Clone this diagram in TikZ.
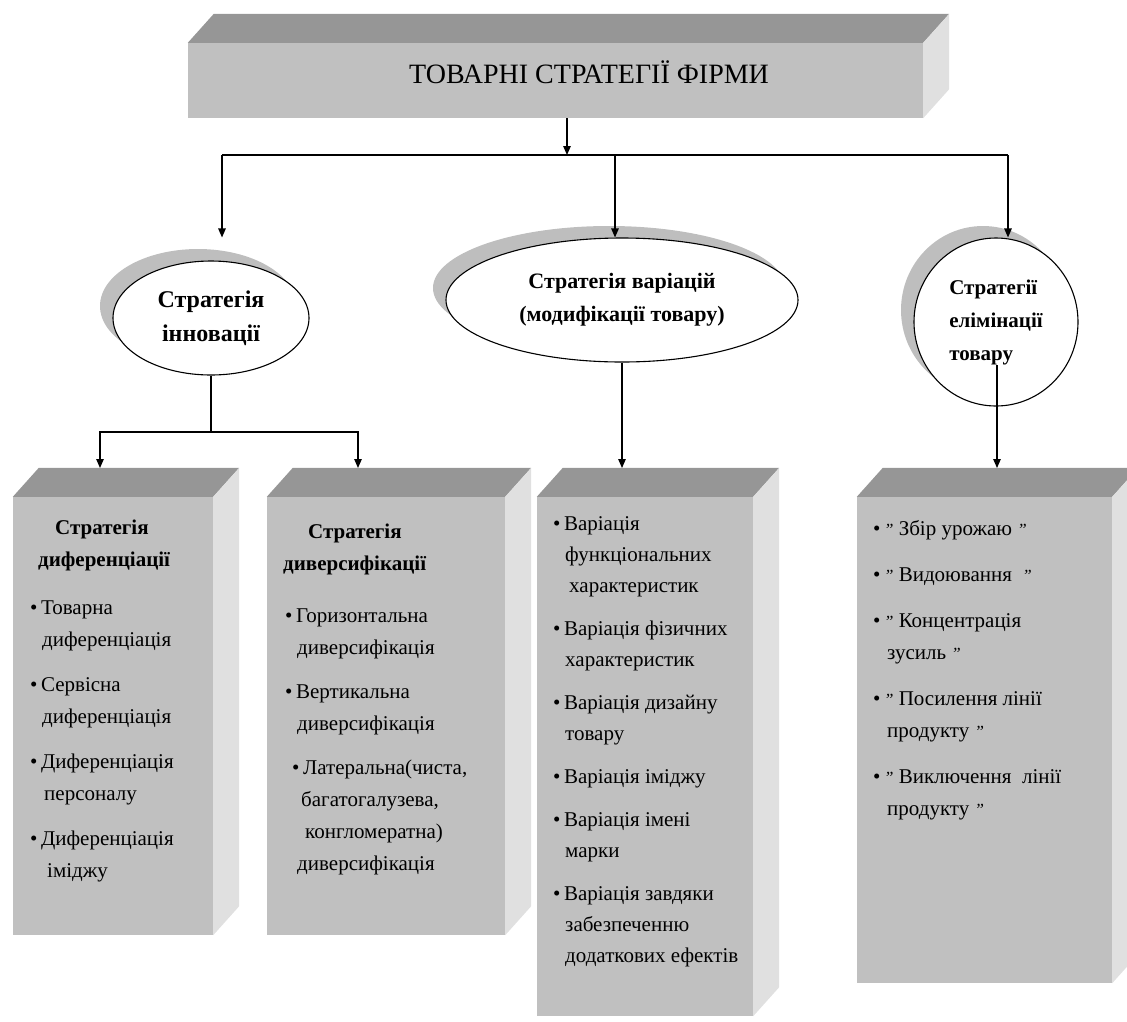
\documentclass[tikz,border=0pt]{standalone}
\usepackage{fontspec}
\setmainfont{Liberation Serif}
\usetikzlibrary{shapes.geometric,shadows,arrows.meta}

\definecolor{boxfront}{HTML}{C0C0C0}
\definecolor{boxtop}{HTML}{969696}
\definecolor{boxside}{HTML}{E0E0E0}
\definecolor{shadowgray}{HTML}{BEBEBE}

\newcommand{\qmark}{{\fontsize{17}{17}\selectfont\itshape"}}

\tikzset{
    >={Triangle[length=9pt,width=7.5pt]},
    front/.style={fill=boxfront,draw=none,inner sep=0pt},
    topface/.style={fill=boxtop},
    sideface/.style={fill=boxside},
    strat/.style={ellipse,draw,line width=1.1pt,fill=white,inner sep=0pt,
        font=\fontsize{22}{33}\selectfont\bfseries,
        drop shadow={shadow xshift=-13pt,shadow yshift=12pt,fill=shadowgray,opacity=1}},
    items/.style={anchor=base west,align=left,inner sep=0pt,font=\fontsize{21}{32}\selectfont},
    conn/.style={line width=1.2pt},
}

\begin{document}
\begin{tikzpicture}[x=1pt,y=-1pt]
    \useasboundingbox (0,0) rectangle (1127,1021);

    % front faces
    \node[front,minimum width=735pt,minimum height=75pt] (titlebox) at (555.5,80.5) {};
    \node[front,minimum width=200pt,minimum height=438pt] (box1) at (113,716) {};
    \node[front,minimum width=238pt,minimum height=438pt] (box2) at (386,716) {};
    \node[front,minimum width=216pt,minimum height=519pt] (box3) at (645,756.5) {};
    \node[front,minimum width=255pt,minimum height=486pt] (box4) at (984.5,740) {};
    % top and side faces
    \foreach \b in {titlebox,box1,box2,box3,box4}{
        \fill[topface](\b.north west)--++(26,-29)--([shift={(26,-29)}]\b.north east)--(\b.north east)--cycle;
        \fill[sideface](\b.north east)--++(26,-29)--([shift={(26,-29)}]\b.south east)--(\b.south east)--cycle;
    }
    \node[font=\fontsize{28}{28}\selectfont] (titletxt) at (589,72) {ТОВАРНІ СТРАТЕГІЇ ФІРМИ};

    % strategies
    \node[strat,align=center,minimum width=196pt,minimum height=114pt,font=\fontsize{24}{34}\selectfont\bfseries] (inn) at (211,318) {Стратегія\\інновації};
    \node[strat,align=center,minimum width=352pt,minimum height=124pt] (var) at (622,300) {Стратегія варіацій\\(модифікації товару)};
    \node[strat,align=left,minimum width=164pt,minimum height=168pt,font=\fontsize{21}{33}\selectfont\bfseries] (elim) at (996,322) {Стратегії\\елімінації\\товару};

    % connectors
    \coordinate (bus) at (567,155);
    \coordinate (bl) at (222,155);
    \coordinate (bm) at (615,155);
    \coordinate (br) at (1008,155);
    \draw[conn,->](titlebox.south -| bus)--(bus);
    \draw[conn](bl)--(br);
    \foreach \c in {bl,bm,br}{
        \draw[conn,->](\c)--(\c |- var.north);
    }
    \coordinate (fork) at (211,432);
    \coordinate (t1) at (100,468);
    \coordinate (t2) at (358,468);
    \draw[conn](inn.south)--(fork);
    \draw[conn,->](fork)-|(t1);
    \draw[conn,->](fork)-|(t2);
    \draw[conn,->](var.south)--(var.south |- t1);
    \coordinate (elimfoot) at (997,365);
    \draw[conn,->](elimfoot)--(elimfoot |- t1);

    % lists (anchored at the baseline of their last line)
    \node[items] (list1) at (30,877) {%
        \hspace*{25pt}\textbf{Стратегія}\\
        \hspace*{8pt}\textbf{диференціації}\\[16pt]
        \textbullet\,Товарна\\
        \hspace*{12pt}диференціація\\[13pt]
        \textbullet\,Сервісна\\
        \hspace*{12pt}диференціація\\[13pt]
        \textbullet\,Диференціація\\
        \hspace*{14pt}персоналу\\[13pt]
        \textbullet\,Диференціація\\
        \hspace*{17pt}іміджу};
    \node[items] (list2) at (283,870) {%
        \hspace*{25pt}\textbf{Стратегія}\\
        \textbf{диверсифікації}\\[20pt]
        \hspace*{2pt}\textbullet\,Горизонтальна\\
        \hspace*{14pt}диверсифікація\\[12pt]
        \hspace*{2pt}\textbullet\,Вертикальна\\
        \hspace*{14pt}диверсифікація\\[12pt]
        \hspace*{9pt}\textbullet\,Латеральна(чиста,\\
        \hspace*{18pt}багатогалузева,\\
        \hspace*{22pt}конгломератна)\\
        \hspace*{14pt}диверсифікація};
    \node[items,font=\fontsize{21}{31}\selectfont] (list3) at (553,962) {%
        \textbullet\,Варіація\\
        \hspace*{12pt}функціональних\\
        \hspace*{16pt}характеристик\\[12pt]
        \textbullet\,Варіація фізичних\\
        \hspace*{12pt}характеристик\\[12pt]
        \textbullet\,Варіація дизайну\\
        \hspace*{12pt}товару\\[12pt]
        \textbullet\,Варіація іміджу\\[12pt]
        \textbullet\,Варіація імені\\
        \hspace*{12pt}марки\\[12pt]
        \textbullet\,Варіація завдяки\\
        \hspace*{12pt}забезпеченню\\
        \hspace*{12pt}додаткових ефектів};
    \node[items] (list4) at (873,815) {%
        \textbullet\,\qmark\ Збір урожаю \qmark\\[14pt]
        \textbullet\,\qmark\ Видоювання \ \qmark\\[14pt]
        \textbullet\,\qmark\ Концентрація\\
        \hspace*{14pt}зусиль \qmark\\[14pt]
        \textbullet\,\qmark\ Посилення лінії\\
        \hspace*{14pt}продукту \qmark\\[14pt]
        \textbullet\,\qmark\ Виключення\ \ лінії\\
        \hspace*{14pt}продукту \qmark};
\end{tikzpicture}
\end{document}
